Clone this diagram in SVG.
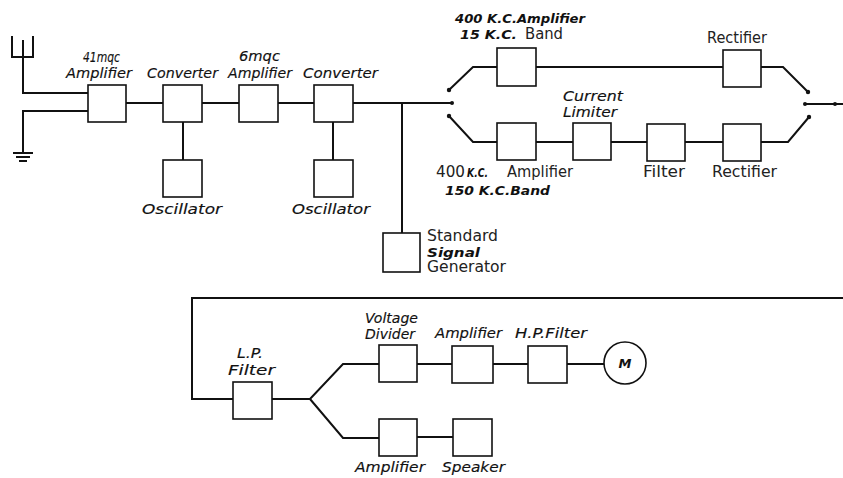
<svg xmlns="http://www.w3.org/2000/svg" width="843" height="478" viewBox="0 0 843 478">
<style>
.bx{fill:#fff;stroke:#111;stroke-width:1.6}
.ln{fill:none;stroke:#111;stroke-width:2}
.hl{font-family:"DejaVu Sans",sans-serif;font-style:italic;font-size:14px;fill:#111;stroke:#111;stroke-width:0.15}
.hb{font-family:"DejaVu Sans",sans-serif;font-style:italic;font-weight:bold;font-size:13px;fill:#111}
.rg{font-family:"DejaVu Sans",sans-serif;font-size:15px;fill:#222}
.dot{fill:#111}
</style>
<rect width="843" height="478" fill="#fff"/>
<g id="connectors">
<path class="ln" d="M12,36 V57 H33 V36 M23,40 V93 H88"/>
<path class="ln" d="M88,111 H23 V153"/>
<path class="ln" stroke-width="1.5" d="M13,153 H33 M16,157 H30 M19,161 H27"/>
<path class="ln" d="M126,103 H163 M202,103 H239 M278,103 H314 M353,103 H452"/>
<path class="ln" d="M183,122 V160 M333,122 V160 M402,103 V233"/>
<path class="ln" d="M449,90 L473,67 H497 M536,67 H723 M761,67 H783 L808,92"/>
<path class="ln" d="M449,116 L473,142 H497 M536,142 H573 M611,142 H647 M685,142 H723 M761,142 H788 L809,117"/>
<path class="ln" d="M805,104 H843"/>
<circle class="dot" cx="452" cy="103" r="2"/>
<circle class="dot" cx="449" cy="90" r="2.2"/>
<circle class="dot" cx="449" cy="116" r="2.2"/>
<circle class="dot" cx="808" cy="92" r="2.2"/>
<circle class="dot" cx="809" cy="117" r="2.2"/>
<circle class="dot" cx="805" cy="104" r="2"/>
<circle class="dot" cx="835" cy="104" r="2"/>
<path class="ln" d="M843,298 H192 V399 H233 M272,399 H310 L343,364 H379 M310,399 L343,438 H379"/>
<path class="ln" d="M417,364 H452 M493,364 H528 M567,364 H604 M417,437 H453"/>
</g>
<g id="antenna-amp"><rect class="bx" x="88" y="85" width="38" height="37"/></g>
<g id="converter1"><rect class="bx" x="163" y="85" width="39" height="37"/></g>
<g id="amp6"><rect class="bx" x="239" y="85" width="39" height="37"/></g>
<g id="converter2"><rect class="bx" x="314" y="85" width="39" height="37"/></g>
<g id="osc1"><rect class="bx" x="163" y="160" width="39" height="37"/></g>
<g id="osc2"><rect class="bx" x="314" y="160" width="39" height="37"/></g>
<g id="ssg"><rect class="bx" x="383" y="233" width="37" height="39"/></g>
<g id="amp400a"><rect class="bx" x="497" y="48" width="39" height="38"/></g>
<g id="rect1"><rect class="bx" x="723" y="50" width="38" height="37"/></g>
<g id="amp400b"><rect class="bx" x="497" y="123" width="39" height="37"/></g>
<g id="limiter"><rect class="bx" x="573" y="123" width="38" height="37"/></g>
<g id="filter"><rect class="bx" x="647" y="124" width="38" height="37"/></g>
<g id="rect2"><rect class="bx" x="723" y="124" width="38" height="37"/></g>
<g id="lpf"><rect class="bx" x="233" y="382" width="39" height="37"/></g>
<g id="vdiv"><rect class="bx" x="379" y="345" width="38" height="37"/></g>
<g id="amp3"><rect class="bx" x="452" y="346" width="41" height="37"/></g>
<g id="hpf"><rect class="bx" x="528" y="346" width="39" height="37"/></g>
<g id="meter"><circle class="bx" cx="625" cy="363" r="21"/><text class="hb" x="625" y="368" text-anchor="middle" font-size="14">M</text></g>
<g id="amp4"><rect class="bx" x="379" y="419" width="38" height="37"/></g>
<g id="speaker"><rect class="bx" x="453" y="419" width="39" height="37"/></g>
<g id="labels">
<text class="hl" x="83" y="62" font-size="13" textLength="37" lengthAdjust="spacingAndGlyphs">41mqc</text>
<text class="hl" x="66" y="78" textLength="66" lengthAdjust="spacingAndGlyphs">Amplifier</text>
<text class="hl" x="147" y="78" textLength="71" lengthAdjust="spacingAndGlyphs">Converter</text>
<text class="hl" x="239" y="61" font-size="13" textLength="41" lengthAdjust="spacingAndGlyphs">6mqc</text>
<text class="hl" x="228" y="78" textLength="64" lengthAdjust="spacingAndGlyphs">Amplifier</text>
<text class="hl" x="303" y="78" textLength="75" lengthAdjust="spacingAndGlyphs">Converter</text>
<text class="hl" x="142" y="214" textLength="80" lengthAdjust="spacingAndGlyphs">Oscillator</text>
<text class="hl" x="292" y="214" textLength="78" lengthAdjust="spacingAndGlyphs">Oscillator</text>
<text class="hb" x="455" y="23" textLength="130" lengthAdjust="spacingAndGlyphs">400 K.C.Amplifier</text>
<text class="hb" x="460" y="39" textLength="57" lengthAdjust="spacingAndGlyphs">15 K.C.</text>
<text class="rg" x="525" y="39" textLength="38" lengthAdjust="spacingAndGlyphs">Band</text>
<text class="rg" x="707" y="43" textLength="60" lengthAdjust="spacingAndGlyphs">Rectifier</text>
<text class="hl" x="563" y="101" font-size="13" textLength="60" lengthAdjust="spacingAndGlyphs">Current</text>
<text class="hl" x="563" y="117" font-size="13" textLength="54" lengthAdjust="spacingAndGlyphs">Limiter</text>
<text class="rg" x="436" y="177" textLength="29" lengthAdjust="spacingAndGlyphs">400</text>
<text class="hb" x="467" y="177" textLength="21" lengthAdjust="spacingAndGlyphs">K.C.</text>
<text class="rg" x="507" y="177" textLength="66" lengthAdjust="spacingAndGlyphs">Amplifier</text>
<text class="hb" x="445" y="195" textLength="105" lengthAdjust="spacingAndGlyphs">150 K.C.Band</text>
<text class="rg" x="643" y="177" textLength="42" lengthAdjust="spacingAndGlyphs">Filter</text>
<text class="rg" x="712" y="177" textLength="65" lengthAdjust="spacingAndGlyphs">Rectifier</text>
<text class="rg" x="427" y="241" font-size="13.5" textLength="71" lengthAdjust="spacingAndGlyphs">Standard</text>
<text class="hb" x="427" y="256.5" font-size="12" textLength="53" lengthAdjust="spacingAndGlyphs">Signal</text>
<text class="rg" x="427" y="272" font-size="14" textLength="79" lengthAdjust="spacingAndGlyphs">Generator</text>
<text class="hl" x="237" y="358" textLength="26" lengthAdjust="spacingAndGlyphs">L.P.</text>
<text class="hl" x="228" y="375" textLength="47" lengthAdjust="spacingAndGlyphs">Filter</text>
<text class="hl" x="365" y="323" font-size="13" textLength="53" lengthAdjust="spacingAndGlyphs">Voltage</text>
<text class="hl" x="365" y="339" font-size="13" textLength="50" lengthAdjust="spacingAndGlyphs">Divider</text>
<text class="hl" x="435" y="338" textLength="67" lengthAdjust="spacingAndGlyphs">Amplifier</text>
<text class="hl" x="515" y="338" textLength="72" lengthAdjust="spacingAndGlyphs">H.P.Filter</text>
<text class="hl" x="355" y="472" textLength="70" lengthAdjust="spacingAndGlyphs">Amplifier</text>
<text class="hl" x="442" y="472" textLength="63" lengthAdjust="spacingAndGlyphs">Speaker</text>
</g>
</svg>
